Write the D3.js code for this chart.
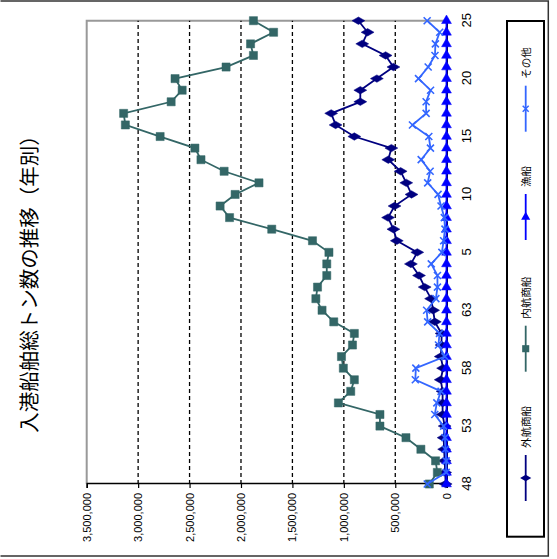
<!DOCTYPE html>
<html><head><meta charset="utf-8">
<script src="https://cdn.jsdelivr.net/npm/d3@7"></script>
<style>html,body{margin:0;padding:0;background:#fff;}svg{display:block;}</style>
</head><body>
<script>
const categories = ["48","49","50","51","52","53","54","55","56","57","58","59","60","61","62","63",
  "1","2","3","4","5","6","7","8","9","10","11","12","13","14","15","16","17","18","19","20","21","22","23","24","25"];
const tickLabels = ["48","53","58","63","5","10","15","20","25"];
const valueTicks = [0,500000,1000000,1500000,2000000,2500000,3000000,3500000];
const seriesNames = ["外航商船","内航商船","漁船","その他"];
const gaikou = [10000,15000,20000,25000,30000,20000,40000,40000,40000,58000,35000,58000,50000,50000,115000,132000,
  152000,214000,269000,348000,286000,485000,518000,570000,507000,342000,393000,448000,568000,538000,898000,1080000,1123000,840000,840000,679000,518000,594000,821000,769000,858000];
const naikou = [169000,91000,108000,251000,396000,649000,649000,1053000,933000,898000,1005000,1023000,916000,898000,1098000,1212000,
  1272000,1256000,1166000,1166000,1145000,1305000,1701000,2111000,2203000,2057000,1825000,2164000,2389000,2448000,2786000,3124000,3141000,2679000,2572000,2641000,2145000,1879000,1907000,1683000,1879000];
const gyosen = [2000,2000,2000,2000,2000,2000,2000,2000,2000,2000,2000,2000,2000,2000,2000,2000,
  2000,2000,2000,2000,2000,2000,2000,2000,2000,2000,2000,2000,2000,2000,2000,2000,2000,2000,2000,2000,2000,2000,2000,2000,2000];
const sonota = [189000,5000,5000,12000,17000,30000,116000,96000,55000,305000,300000,18000,80000,70000,185000,195000,
  105000,90000,90000,150000,47000,30000,17000,23000,55000,84000,185000,161000,248000,158000,174000,333000,200000,200000,157000,274000,180000,114000,110000,68000,190000];

const colors = ["#000080","#336666","#0000ff","#3366ff"];
const symbols = ["diamond","square","triangle","x"];
const allSeries = [gaikou, naikou, gyosen, sonota];

const svg = d3.select("body").append("svg").attr("width",557).attr("height",559);
svg.append("rect").attr("width",557).attr("height",559).attr("fill","#fff");
// outer chart border (image coordinates)
svg.append("path").attr("d","M0.5,1 H548.3 V556 H0.5").attr("fill","none").attr("stroke","#333").attr("stroke-width",1.5);

const g = svg.append("g").attr("transform","translate(0,559) rotate(-90)");

const x = d3.scalePoint().domain(categories).range([75, 538.3]);
const y = d3.scaleLinear().domain([0,3500000]).range([446.7, 86.7]);

// plot border
g.append("path").attr("d",`M${x.range()[0]},${y(3500000)} H${x.range()[1]} V${y(0)}`)
  .attr("fill","none").attr("stroke","#999").attr("stroke-width",2);

// gridlines
g.selectAll("line.grid").data(valueTicks.filter(d=>d>0 && d<3500000)).enter().append("line")
  .attr("x1",x.range()[0]).attr("x2",x.range()[1]).attr("y1",d=>y(d)).attr("y2",d=>y(d))
  .attr("stroke","#000").attr("stroke-width",1.3).attr("stroke-dasharray","4,3");

// value axis
const yAxis = g.append("g").attr("transform",`translate(${x.range()[0]},0)`)
  .call(d3.axisLeft(y).tickValues(valueTicks).tickFormat(d3.format(",")).tickSize(4).tickPadding(5));
yAxis.select(".domain").attr("stroke","#000").attr("stroke-width",1.5);
yAxis.selectAll(".tick line").attr("stroke","#000").attr("stroke-width",1.2);
yAxis.selectAll(".tick text").attr("font-family","Liberation Sans, Arial, sans-serif").attr("font-size",11).attr("fill","#000");

// category axis
const xAxis = g.append("g").attr("transform",`translate(0,${y(0)})`)
  .call(d3.axisBottom(x).tickValues(tickLabels).tickSize(0).tickPadding(24));
xAxis.select(".domain").attr("stroke","#000").attr("stroke-width",1.5);
xAxis.selectAll(".tick text").attr("font-family","Liberation Sans, Arial, sans-serif").attr("font-size",13).attr("fill","#000").attr("dy","0");

// lines
const line = d3.line().x((d,i)=>x(categories[i])).y(d=>y(d));
const symMap = {diamond: d3.symbolDiamond, square: d3.symbolSquare, triangle: d3.symbolTriangle};
allSeries.forEach((data, k) => {
  const sg = g.append("g");
  sg.append("path").datum(data).attr("d",line).attr("fill","none").attr("stroke",colors[k]).attr("stroke-width",1.8);
  const pts = sg.selectAll("g.pt").data(data).enter().append("g")
    .attr("transform",(d,i)=>`translate(${x(categories[i])},${y(d)})`);
  if (symbols[k] === "x") {
    pts.append("path").attr("d","M-3.5,-3.5L3.5,3.5M-3.5,3.5L3.5,-3.5").attr("stroke",colors[k]).attr("stroke-width",1.6).attr("fill","none");
  } else {
    const size = symbols[k]==="square" ? 66 : (symbols[k]==="triangle" ? 42 : 48);
    pts.append("path").attr("d", d3.symbol().type(symMap[symbols[k]]).size(size))
      .attr("fill",colors[k]).attr("stroke",colors[k]).attr("stroke-width",0.5)
      .attr("transform", symbols[k]==="triangle" ? "rotate(90)" : null);
  }
});

// title
g.append("text").attr("x",280).attr("y",28).attr("text-anchor","middle").attr("dominant-baseline","central")
  .attr("font-family","Noto Sans CJK JP, sans-serif").attr("font-size",20.5).attr("fill","#000")
  .text("入港船舶総トン数の推移（年別）");

// legend
g.append("rect").attr("x",22.3).attr("y",507).attr("width",538-22.3).attr("height",37)
  .attr("fill","#fff").attr("stroke","#000").attr("stroke-width",2);
const legendU = [58, 187.3, 319, 427.3];
seriesNames.forEach((name,k)=>{
  const lg = g.append("g").attr("transform",`translate(${legendU[k]},525.7)`);
  lg.append("line").attr("x1",0).attr("x2",46).attr("y1",0).attr("y2",0).attr("stroke",colors[k]).attr("stroke-width",1.8);
  const mk = lg.append("g").attr("transform","translate(23,0)");
  if (symbols[k]==="x") {
    mk.append("path").attr("d","M-3,-3L3,3M-3,3L3,-3").attr("stroke",colors[k]).attr("stroke-width",1.5);
  } else {
    mk.append("path").attr("d", d3.symbol().type(symMap[symbols[k]]).size(symbols[k]==="square"?50:36))
      .attr("fill",colors[k]).attr("transform", symbols[k]==="triangle" ? "rotate(90)" : null);
  }
  lg.append("text").attr("x",53).attr("y",0).attr("dominant-baseline","central")
    .attr("font-family","Noto Sans CJK JP, sans-serif").attr("font-size",10.5).attr("fill","#000").text(name);
});
</script>
</body></html>
